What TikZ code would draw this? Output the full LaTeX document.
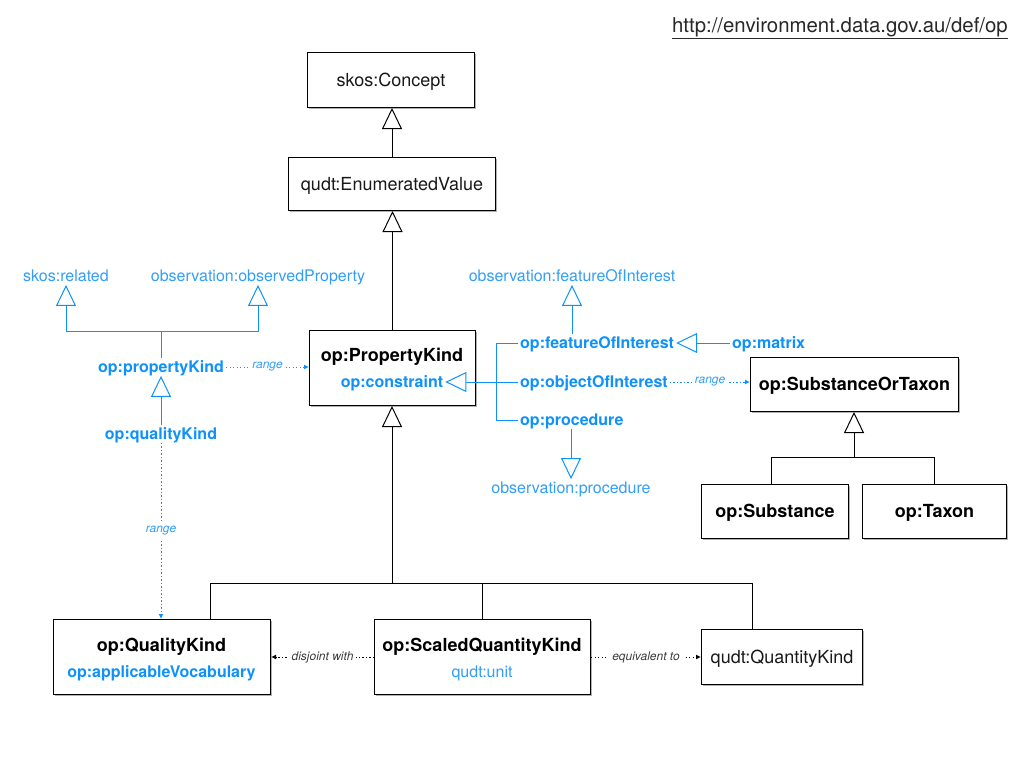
\documentclass[tikz,border=0pt]{standalone}
\usepackage{fontspec}
\setmainfont{TeX Gyre Heros}
\usetikzlibrary{arrows.meta,shadows}
\definecolor{opblue}{RGB}{14,146,250}
\definecolor{lblue}{RGB}{50,158,248}
\definecolor{txt}{RGB}{25,25,25}
\definecolor{lblgray}{RGB}{60,60,60}
\definecolor{urlgray}{RGB}{40,40,40}
\tikzset{
  box/.style={draw=black, line width=1pt, fill=white, inner sep=0pt, anchor=north west,
    drop shadow={shadow xshift=1.2pt, shadow yshift=-1.5pt, opacity=0.3, fill=black}},
  ttl/.style={font=\fontsize{18}{20}\selectfont\bfseries, text=black, inner sep=2pt, text height=12.9pt, text depth=0pt},
  lt/.style={font=\fontsize{18}{20}\selectfont, text=txt, text height=12.9pt, text depth=0pt},
  bb/.style={font=\fontsize{16}{18}\selectfont\bfseries, text=opblue, inner xsep=2pt, inner ysep=3pt, text height=11.5pt, text depth=0pt},
  bl/.style={font=\fontsize{16}{18}\selectfont, text=lblue, inner xsep=2pt, inner ysep=3pt, text height=11.5pt, text depth=0pt},
  kline/.style={draw=black, line width=1pt},
  bline/.style={draw=opblue, line width=1pt},
  inh/.style={kline, -{Triangle[open, length=21pt, width=20pt, line width=1pt]}},
  binh/.style={bline, -{Triangle[open, length=21pt, width=20pt, line width=1pt]}},
  kdots/.style={draw=black, line width=1pt, dash pattern=on 1.3pt off 2.2pt, -{Latex[length=5pt, width=5pt]}},
  bdots/.style={draw=opblue, line width=1pt, dash pattern=on 1.3pt off 2.2pt, -{Latex[length=5pt, width=5pt]}},
  klbl/.style={font=\fontsize{12}{14}\selectfont\itshape, text=lblgray, fill=white, inner sep=3pt},
  blbl/.style={font=\fontsize{12}{14}\selectfont\itshape, text=lblue, fill=white, inner sep=3pt},
}
\begin{document}
\begin{tikzpicture}[x=1pt, y=-1pt]
\fill[white] (0,0) rectangle (1024,768);
\useasboundingbox (0,0) rectangle (1024,768);

% URL
\node[font=\fontsize{20.4}{22}\selectfont, text=urlgray, anchor=east, inner sep=0pt] (url) at (1008,28) {\underline{http://environment.data.gov.au/def/op}};

% black boxes
\node[box, lt, minimum width=167pt, minimum height=55pt] (concept) at (307,52) {skos:Concept};
\node[box, lt, minimum width=207pt, minimum height=53pt] (enum) at (288,157) {qudt:EnumeratedValue};
\node[box, minimum width=166pt, minimum height=75pt] (pk) at (309,330) {};
\node[ttl] (pkt) at (392,355) {op:PropertyKind};
\node[bb] (constr) at (392,382) {op:constraint};

\node[box, ttl, minimum width=208pt, minimum height=54pt] (sot) at (750,357) {op:SubstanceOrTaxon};
\node[box, ttl, minimum width=147pt, minimum height=54pt] (subst) at (701,484) {op:Substance};
\node[box, ttl, minimum width=144pt, minimum height=54pt] (taxon) at (862,484) {op:Taxon};

\node[box, minimum width=217pt, minimum height=75pt] (qk) at (53,619) {};
\node[ttl] (qkt) at (161.5,645) {op:QualityKind};
\node[bb] (vocab) at (161.5,672) {op:applicableVocabulary};

\node[box, minimum width=216pt, minimum height=75pt] (sqk) at (374,619) {};
\node[ttl] (sqkt) at (482,645) {op:ScaledQuantityKind};
\node[bl] (unit) at (482,672) {qudt:unit};

\node[box, lt, minimum width=161pt, minimum height=55pt] (qtk) at (701,629) {qudt:QuantityKind};

% black hierarchy
\draw[inh] (enum.north) -- (enum.north |- concept.south);
\draw[inh] (pk.north) -- (pk.north |- enum.south);
\coordinate (tb) at (392,583);
\coordinate (tl) at (210,583);
\coordinate (tr) at (752,583);
\draw[inh] (tb) -- (tb |- pk.south);
\draw[kline] (tl) -- (tr);
\draw[kline] (tl) -- (tl |- qk.north);
\draw[kline] (sqk.north |- tb) -- (sqk.north);
\draw[kline] (tr) -- (tr |- qtk.north);

\coordinate (st) at (854,457);
\coordinate (stl) at (771,457);
\coordinate (str) at (934,457);
\draw[inh] (st) -- (st |- sot.south);
\draw[kline] (stl) -- (str);
\draw[kline] (stl) -- (stl |- subst.north);
\draw[kline] (str) -- (str |- taxon.north);

% black dotted relations
\draw[kdots] (sqk.west) -- node[klbl] {disjoint with} (qk.east);
\draw[kdots] (sqk.east) -- node[klbl] {equivalent to} (qtk.west);

% blue left part
\node[bl] (rel) at (66,276) {skos:related};
\node[bl] (obsprop) at (258,276) {observation:observedProperty};
\node[bb] (propk) at (161,367) {op:propertyKind};
\node[bb] (qualk) at (161,434) {op:qualityKind};
\coordinate (j1) at (161,331);
\draw[bline] (propk.north) -- (j1);
\draw[binh] (j1) -| (rel.south);
\draw[binh] (j1) -| (obsprop.south);
\draw[binh] (qualk.north) -- (propk.south);
\draw[bdots] (propk.east) -- node[blbl] {range} (pk.west |- propk.east);
\draw[bdots] (qualk.south) -- node[blbl, pos=0.5] {range} (qualk.south |- qk.north);

% blue right part
\node[bl] (obsfoi) at (572,276) {observation:featureOfInterest};
\node[bb, anchor=west] (foi) at (518,343) {op:featureOfInterest};
\node[bb, anchor=west] (ooi) at (518,382) {op:objectOfInterest};
\node[bb, anchor=west] (proc) at (518,420) {op:procedure};
\node[bl] (obsproc) at (571,488) {observation:procedure};
\node[bb, anchor=west] (matrix) at (730,343) {op:matrix};
\coordinate (brk) at (496,382);
\draw[binh] (brk) -- (constr.east);
\draw[bline] (foi.west) -| (brk);
\draw[bline] (proc.west) -| (brk);
\draw[bline] (ooi.west) -- (brk);
\draw[binh] (foi.north -| obsfoi.south) -- (obsfoi.south);
\draw[binh] (proc.south -| obsproc.north) -- (obsproc.north);
\draw[binh] (matrix.west) -- (foi.east);
\draw[bdots] (ooi.east) -- node[blbl] {range} (sot.west |- ooi.east);
\end{tikzpicture}
\end{document}
